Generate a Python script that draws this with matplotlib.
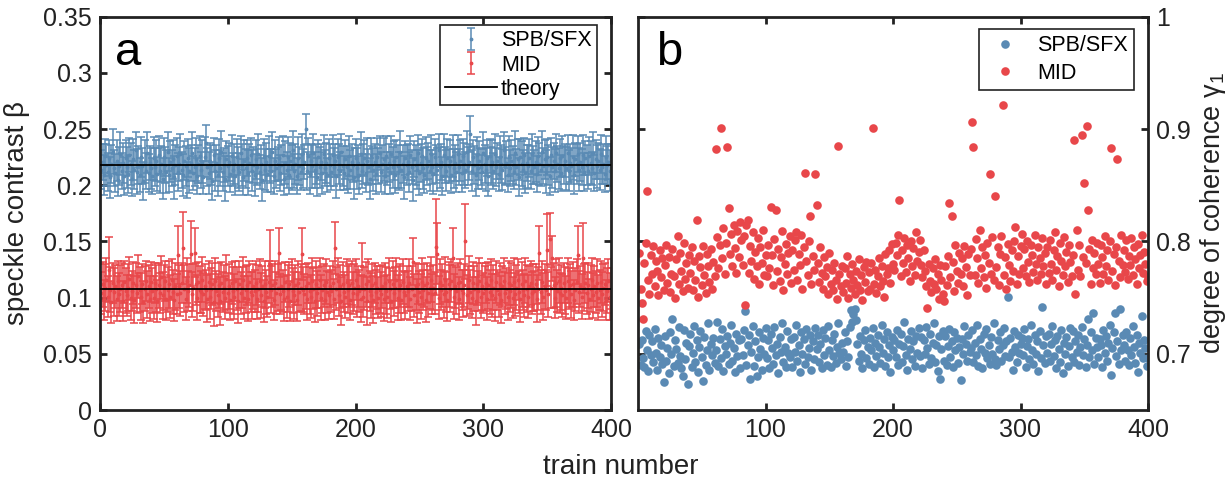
import numpy as np
import matplotlib
matplotlib.use("Agg")
import matplotlib.pyplot as plt

plt.rcParams['font.family'] = ['Liberation Sans', 'DejaVu Sans']
plt.rcParams['mathtext.fontset'] = 'custom'
plt.rcParams['mathtext.rm'] = 'Liberation Sans'
plt.rcParams['mathtext.it'] = 'Liberation Sans:italic'

# ---------------- data (values in thousandths) ----------------
spb_beta_milli = [
    214, 221, 209, 226, 218, 212, 224, 207, 219, 230, 215, 211, 222, 205, 217, 228, 213, 220, 208, 224,
    216, 210, 227, 219, 206, 223, 214, 231, 212, 218, 209, 225, 217, 204, 221, 213, 229, 211, 220, 215,
    208, 224, 216, 222, 210, 227, 213, 219, 206, 225, 218, 212, 230, 209, 221, 215, 223, 207, 218, 226,
    212, 219, 228, 214, 209, 222, 217, 205, 224, 213, 220, 229, 211, 216, 223, 208, 219, 226, 214, 221,
    207, 225, 238, 216, 211, 222, 218, 204, 227, 213, 220, 209, 224, 215, 230, 212, 218, 206, 223, 217,
    221, 210, 226, 214, 219, 208, 225, 216, 212, 229, 218, 207, 222, 215, 224, 211, 220, 227, 213, 218,
    209, 223, 216, 228, 212, 219, 205, 225, 214, 221, 210, 226, 217, 213, 230, 208, 222, 215, 219, 224,
    211, 218, 227, 206, 220, 214, 225, 209, 222, 216, 231, 213, 219, 208, 224, 217, 212, 228, 215, 221,
    250, 213, 226, 210, 222, 217, 229, 214, 219, 207, 225, 216, 221, 211, 228, 215, 220, 209, 224, 218,
    212, 227, 216, 222, 208, 225, 219, 213, 230, 217, 211, 223, 216, 209, 226, 214, 221, 218, 207, 224,
    215, 220, 209, 228, 213, 219, 224, 211, 222, 216, 206, 227, 218, 214, 221, 210, 225, 217, 229, 212,
    219, 223, 208, 226, 215, 220, 211, 228, 216, 222, 209, 225, 217, 213, 230, 214, 219, 207, 224, 218,
    221, 212, 227, 216, 205, 223, 218, 214, 229, 211, 220, 226, 215, 209, 224, 217, 222, 213, 228, 216,
    210, 225, 219, 214, 231, 216, 221, 208, 227, 218, 213, 224, 217, 222, 209, 226, 215, 220, 212, 228,
    216, 222, 211, 226, 219, 214, 230, 217, 221, 246, 213, 225, 218, 209, 227, 215, 222, 216, 212, 229,
    219, 214, 224, 208, 226, 217, 221, 213, 228, 216, 222, 210, 225, 219, 214, 231, 217, 220, 209, 226,
    215, 222, 218, 212, 229, 216, 223, 207, 225, 219, 214, 227, 211, 220, 217, 224, 213, 228, 218, 216,
    221, 210, 226, 219, 214, 230, 217, 223, 212, 225, 218, 208, 227, 216, 222, 213, 229, 219, 215, 224,
    211, 226, 218, 222, 215, 229, 213, 220, 217, 225, 209, 223, 219, 228, 214, 221, 216, 227, 212, 224,
    218, 213, 226, 220, 215, 229, 211, 223, 217, 222, 214, 228, 216, 219, 210, 225, 218, 221, 213, 220,
]
spb_err_milli = [
    17, 16, 18, 15, 19, 17, 16, 18, 17, 20, 16, 17, 18, 15, 17, 19, 16, 18, 17, 16,
    18, 17, 15, 19, 16, 18, 17, 16, 20, 17, 15, 18, 16, 17, 19, 16, 18, 17, 15, 18,
    16, 19, 17, 18, 15, 17, 20, 16, 18, 17, 16, 19, 17, 15, 18, 16, 17, 19, 18, 16,
    17, 15, 18, 16, 19, 17, 18, 16, 17, 20, 16, 18, 15, 17, 19, 16, 17, 18, 16, 19,
    15, 18, 16, 17, 19, 16, 18, 17, 15, 18, 16, 19, 17, 16, 18, 17, 15, 20, 16, 18,
    17, 16, 19, 15, 18, 17, 16, 18, 17, 15, 19, 16, 18, 17, 16, 20, 17, 15, 18, 16,
    19, 17, 16, 18, 15, 17, 19, 16, 18, 17, 16, 18, 15, 19, 17, 16, 18, 17, 15, 19,
    16, 18, 17, 15, 19, 16, 18, 17, 16, 20, 17, 15, 18, 16, 19, 17, 16, 18, 17, 15,
    13, 17, 16, 18, 15, 19, 17, 16, 18, 17, 15, 18, 16, 19, 17, 16, 18, 15, 17, 19,
    16, 18, 17, 15, 19, 16, 18, 17, 16, 18, 15, 17, 19, 16, 18, 17, 16, 15, 19, 17,
    18, 16, 17, 19, 15, 18, 16, 17, 20, 16, 18, 15, 17, 19, 16, 18, 17, 16, 15, 18,
    17, 19, 16, 18, 15, 17, 19, 16, 18, 17, 16, 15, 19, 17, 18, 16, 17, 19, 15, 18,
    16, 18, 17, 15, 19, 16, 18, 17, 16, 20, 17, 15, 18, 16, 19, 17, 16, 18, 17, 15,
    18, 16, 17, 19, 15, 18, 16, 17, 19, 16, 18, 17, 15, 18, 16, 19, 17, 16, 18, 17,
    16, 18, 17, 15, 19, 16, 18, 17, 16, 16, 18, 15, 17, 19, 16, 18, 17, 16, 15, 18,
    17, 19, 16, 18, 15, 17, 19, 16, 18, 17, 16, 15, 19, 17, 18, 16, 17, 19, 15, 18,
    16, 18, 17, 15, 19, 16, 18, 17, 16, 20, 17, 15, 18, 16, 19, 17, 16, 18, 17, 15,
    18, 16, 17, 19, 15, 18, 16, 17, 19, 16, 18, 17, 15, 18, 16, 19, 17, 16, 18, 17,
    16, 18, 17, 15, 19, 16, 18, 17, 16, 20, 17, 15, 18, 16, 19, 17, 16, 18, 17, 15,
    18, 16, 17, 19, 15, 18, 16, 17, 19, 16, 18, 17, 15, 18, 16, 19, 17, 16, 18, 17,
]
mid_beta_milli = [
    104, 112, 98, 109, 116, 101, 125, 107, 96, 113, 105, 110, 99, 115, 103, 108, 111, 97, 114, 106,
    102, 109, 117, 100, 106, 113, 98, 111, 104, 119, 107, 101, 112, 96, 108, 115, 103, 110, 99, 114,
    106, 100, 113, 108, 97, 111, 104, 118, 102, 109, 115, 99, 107, 112, 101, 116, 105, 98, 110, 103,
    138, 110, 104, 113, 144, 108, 99, 115, 106, 111, 139, 103, 109, 140, 112, 100, 114, 107, 105, 116,
    103, 110, 107, 99, 114, 101, 108, 112, 96, 115, 106, 102, 111, 97, 113, 105, 109, 100, 117, 104,
    110, 98, 113, 106, 101, 115, 108, 97, 112, 104, 109, 116, 100, 107, 111, 99, 114, 105, 102, 110,
    106, 113, 99, 108, 115, 102, 110, 97, 112, 105, 101, 114, 130, 107, 111, 98, 113, 104, 109, 140,
    103, 110, 106, 99, 114, 101, 108, 112, 97, 115, 106, 102, 111, 98, 113, 105, 109, 139, 107, 103,
    110, 99, 113, 106, 101, 115, 108, 97, 112, 104, 109, 116, 100, 107, 111, 98, 114, 105, 102, 110,
    106, 113, 99, 144, 108, 115, 102, 110, 97, 112, 105, 101, 114, 107, 111, 98, 113, 104, 109, 116,
    103, 110, 106, 99, 128, 101, 108, 112, 97, 115, 106, 102, 111, 98, 113, 105, 109, 100, 107, 103,
    110, 99, 113, 106, 101, 115, 108, 97, 112, 104, 109, 116, 100, 107, 111, 98, 114, 105, 102, 110,
    106, 113, 99, 108, 132, 102, 110, 97, 112, 105, 101, 114, 107, 111, 98, 113, 104, 109, 116, 103,
    109, 104, 145, 139, 100, 114, 107, 111, 103, 116, 105, 98, 112, 108, 115, 135, 101, 110, 106, 113,
    99, 114, 107, 104, 111, 150, 102, 109, 116, 105, 100, 113, 108, 97, 112, 106, 115, 101, 110, 104,
    108, 113, 99, 111, 105, 116, 102, 109, 100, 114, 107, 103, 112, 98, 110, 115, 104, 108, 101, 113,
    106, 111, 100, 114, 103, 109, 116, 105, 99, 112, 107, 102, 115, 108, 101, 110, 113, 104, 109, 106,
    112, 99, 108, 140, 105, 114, 101, 110, 107, 142, 103, 152, 109, 135, 111, 100, 113, 106, 115, 104,
    109, 102, 113, 106, 100, 115, 108, 111, 103, 112, 98, 107, 114, 138, 105, 110, 101, 135, 109, 113,
    104, 111, 99, 108, 116, 102, 110, 105, 113, 100, 107, 114, 103, 109, 112, 98, 106, 115, 101, 108,
]
mid_err_milli = [
    19, 20, 18, 21, 19, 18, 29, 20, 19, 18, 21, 19, 20, 18, 19, 21, 20, 18, 19, 20,
    18, 21, 19, 20, 18, 19, 21, 20, 18, 19, 20, 21, 18, 19, 20, 18, 21, 19, 20, 18,
    20, 19, 18, 21, 19, 20, 18, 19, 21, 20, 18, 19, 20, 21, 19, 18, 20, 19, 21, 18,
    26, 19, 20, 18, 32, 21, 19, 20, 18, 19, 29, 20, 21, 22, 19, 20, 18, 21, 19, 20,
    19, 20, 18, 21, 19, 20, 18, 19, 21, 20, 18, 19, 20, 21, 19, 18, 20, 19, 21, 18,
    20, 18, 19, 21, 20, 18, 19, 20, 21, 19, 18, 20, 19, 21, 18, 20, 19, 18, 21, 20,
    19, 20, 18, 21, 19, 20, 18, 19, 21, 20, 18, 19, 30, 21, 19, 18, 20, 19, 21, 22,
    18, 21, 19, 20, 18, 19, 21, 20, 18, 19, 20, 21, 18, 19, 20, 18, 21, 23, 20, 18,
    20, 19, 18, 21, 19, 20, 18, 19, 21, 20, 18, 19, 20, 21, 19, 18, 20, 19, 21, 18,
    19, 20, 18, 23, 19, 20, 18, 19, 21, 20, 18, 19, 20, 21, 19, 18, 20, 19, 21, 18,
    20, 18, 19, 21, 21, 18, 19, 20, 21, 19, 18, 20, 19, 21, 18, 20, 19, 18, 21, 20,
    19, 20, 18, 21, 19, 20, 18, 19, 21, 20, 18, 19, 20, 21, 19, 18, 20, 19, 21, 18,
    18, 21, 19, 20, 21, 19, 21, 20, 18, 19, 20, 21, 18, 19, 20, 18, 21, 19, 20, 18,
    20, 19, 43, 27, 19, 20, 18, 19, 21, 20, 18, 19, 20, 21, 19, 27, 20, 19, 21, 18,
    19, 20, 18, 21, 19, 33, 18, 19, 21, 20, 18, 19, 20, 21, 19, 18, 20, 19, 21, 18,
    20, 18, 19, 21, 20, 18, 19, 20, 21, 19, 18, 20, 19, 21, 18, 20, 19, 18, 21, 20,
    19, 20, 18, 21, 19, 20, 18, 19, 21, 20, 18, 19, 20, 21, 19, 18, 20, 19, 21, 18,
    18, 21, 19, 24, 20, 19, 21, 20, 18, 32, 20, 23, 18, 20, 20, 18, 21, 19, 20, 18,
    20, 19, 18, 21, 19, 20, 18, 19, 21, 20, 18, 19, 20, 26, 19, 18, 20, 31, 21, 18,
    19, 20, 18, 21, 19, 20, 18, 19, 21, 20, 18, 19, 20, 21, 19, 18, 20, 19, 21, 18,
]
spb_gamma_milli = [
    709, 690, 712, 696, 688, 720, 703, 685, 717, 699, 711, 693, 722, 701, 686, 714, 697, 708, 691, 675,
    716, 694, 705, 683, 719, 700, 731, 689, 712, 704, 692, 724, 698, 687, 680, 721, 695, 710, 673, 707,
    718, 688, 701, 725, 693, 712, 684, 706, 720, 697, 676, 715, 690, 703, 727, 686, 709, 699, 714, 692,
    703, 728, 689, 713, 696, 722, 685, 707, 700, 716, 691, 710, 726, 694, 705, 684, 718, 698, 712, 687,
    713, 699, 721, 738, 690, 708, 717, 678, 702, 725, 689, 711, 680, 697, 719, 704, 686, 714, 700, 723,
    696, 712, 687, 718, 705, 691, 724, 699, 709, 683, 715, 702, 727, 693, 706, 688, 720, 701, 697, 713,
    688, 715, 702, 726, 694, 708, 684, 719, 700, 713, 691, 722, 697, 705, 717, 686, 711, 695, 723, 704,
    717, 693, 709, 687, 721, 699, 714, 690, 725, 703, 688, 712, 698, 718, 692, 706, 727, 701, 695, 710,
    702, 719, 689, 711, 697, 724, 739, 728, 735, 740, 730, 709, 694, 716, 700, 687, 712, 721, 696, 706,
    691, 714, 703, 723, 688, 710, 698, 717, 706, 692, 726, 701, 713, 689, 719, 697, 708, 684, 715, 703,
    712, 697, 721, 690, 709, 718, 693, 707, 728, 699, 686, 713, 704, 720, 695, 711, 689, 716, 701, 723,
    698, 715, 687, 712, 700, 724, 705, 691, 718, 696, 710, 727, 693, 708, 685, 716, 678, 704, 720, 694,
    716, 690, 707, 722, 697, 711, 688, 719, 703, 714, 692, 706, 677, 713, 700, 725, 709, 694, 717, 702,
    705, 721, 693, 710, 699, 726, 689, 713, 704, 687, 718, 701, 722, 696, 708, 691, 715, 700, 727, 695,
    690, 712, 704, 719, 694, 708, 723, 698, 711, 751, 697, 714, 702, 686, 720, 706, 693, 717, 701, 709,
    714, 699, 722, 688, 707, 713, 695, 726, 703, 691, 717, 700, 711, 685, 720, 696, 742, 708, 692, 716,
    701, 718, 694, 709, 725, 698, 712, 687, 716, 704, 693, 721, 683, 710, 700, 715, 689, 707, 723, 697,
    720, 693, 711, 702, 717, 690, 706, 724, 699, 713, 688, 708, 731, 697, 719, 703, 736, 691, 714, 706,
    697, 713, 708, 688, 721, 701, 716, 694, 710, 726, 681, 705, 719, 736, 698, 711, 691, 740, 703, 717,
    708, 694, 719, 703, 690, 714, 699, 725, 706, 692, 717, 684, 710, 701, 734, 696, 712, 705, 689, 696,
]
mid_gamma_milli = [
    790, 758, 745, 731, 781, 799, 845, 766, 753, 788, 771, 796, 760, 783, 774, 752, 792, 768, 785, 757,
    779, 797, 763, 786, 755, 771, 793, 769, 750, 784, 805, 762, 790, 774, 756, 799, 767, 781, 759, 788,
    772, 795, 757, 783, 766, 819, 751, 787, 777, 761, 796, 770, 754, 789, 778, 764, 793, 758, 782, 769,
    882, 804, 776, 797, 901, 785, 812, 771, 799, 884, 830, 789, 807, 778, 815, 794, 772, 809, 786, 817,
    801, 779, 805, 743, 815, 819, 772, 796, 783, 808, 767, 791, 778, 803, 762, 795, 781, 810, 770, 788,
    769, 797, 776, 831, 788, 761, 802, 828, 774, 793, 765, 786, 809, 757, 780, 798, 771, 790, 805, 763,
    792, 775, 801, 808, 766, 789, 779, 806, 758, 795, 861, 783, 770, 800, 823, 762, 787, 775, 860, 832,
    781, 764, 795, 772, 758, 786, 769, 777, 753, 790, 762, 775, 757, 781, 766, 749, 885, 771, 760, 778,
    755, 776, 763, 787, 750, 771, 759, 780, 766, 753, 774, 761, 784, 757, 770, 748, 777, 764, 782, 756,
    773, 758, 781, 901, 762, 775, 754, 769, 785, 760, 778, 765, 751, 789, 771, 776, 792, 763, 798, 780,
    775, 799, 788, 806, 837, 769, 792, 781, 803, 773, 797, 785, 765, 800, 778, 794, 770, 808, 783, 791,
    801, 779, 768, 792, 774, 760, 741, 780, 765, 755, 776, 762, 784, 758, 771, 749, 779, 766, 753, 747,
    778, 761, 787, 834, 768, 823, 782, 756, 797, 774, 763, 790, 771, 785, 760, 796, 777, 752, 789, 770,
    793, 906, 884, 770, 802, 785, 763, 810, 776, 795, 768, 788, 759, 799, 781, 860, 771, 804, 766, 840,
    777, 795, 761, 789, 805, 921, 770, 786, 758, 798, 779, 765, 792, 774, 800, 813, 762, 787, 771, 796,
    807, 776, 793, 769, 800, 782, 764, 797, 788, 773, 806, 780, 766, 795, 785, 771, 803, 778, 790, 762,
    795, 772, 801, 780, 766, 792, 808, 775, 787, 760, 799, 783, 770, 804, 778, 791, 764, 797, 782, 769,
    788, 890, 753, 810, 775, 797, 769, 895, 786, 852, 781, 903, 828, 793, 762, 801, 776, 790, 771, 799,
    780, 763, 797, 786, 771, 805, 778, 792, 766, 800, 883, 774, 789, 761, 795, 873, 783, 768, 806, 779,
    792, 773, 801, 767, 787, 779, 803, 770, 795, 784, 762, 798, 776, 788, 806, 772, 791, 780, 765, 768,
]
theory_beta = {"SPB/SFX": 0.2176, "MID": 0.1077}
labels = ["SPB/SFX", "MID"]

train = np.arange(1, len(spb_beta_milli) + 1)
spb_beta = np.array(spb_beta_milli) / 1000
spb_err = np.array(spb_err_milli) / 1000
mid_beta = np.array(mid_beta_milli) / 1000
mid_err = np.array(mid_err_milli) / 1000
spb_gamma = np.array(spb_gamma_milli) / 1000
mid_gamma = np.array(mid_gamma_milli) / 1000

BLUE = '#5a8ab4'
RED = '#e8474a'

W, H = 1232, 482
fig = plt.figure(figsize=(W / 100, H / 100), dpi=100)
axL = fig.add_axes([100 / W, (H - 410) / H, 511 / W, 393.3 / H])
axR = fig.add_axes([638 / W, (H - 410) / H, 510 / W, 393.3 / H])

tick_fs = 18
for ax in (axL, axR):
    for s in ax.spines.values():
        s.set_linewidth(2.0)
        s.set_color('#222222')
    ax.tick_params(direction='in', length=5, width=2.0, top=True, right=True,
                   left=True, bottom=True, labelsize=tick_fs, colors='#222222',
                   labelcolor='#222222', pad=6)

# ---- panel a ----
ebk = dict(fmt='.', markersize=3.5, elinewidth=1.1, capsize=3, capthick=1.1)
h1 = axL.errorbar(train, spb_beta, yerr=spb_err, color=BLUE, label=labels[0], **ebk)
h2 = axL.errorbar(train, mid_beta, yerr=mid_err, color=RED, label=labels[1], **ebk)
h3, = axL.plot([0, 400], [theory_beta["SPB/SFX"]] * 2, color='black', lw=1.3, label='theory', zorder=5)
axL.plot([0, 400], [theory_beta["MID"]] * 2, color='black', lw=1.3, zorder=5)
axL.set_xlim(0, 400)
axL.set_ylim(0, 0.35)
axL.set_xticks([0, 100, 200, 300, 400])
axL.set_yticks([0, 0.05, 0.1, 0.15, 0.2, 0.25, 0.3, 0.35])
axL.set_yticklabels(['0', '0.05', '0.1', '0.15', '0.2', '0.25', '0.3', '0.35'])
axL.set_ylabel('speckle contrast β', fontsize=20, color='#222222', labelpad=9)
axL.text(0.029, 0.877, 'a', transform=axL.transAxes, fontsize=34, va='baseline', ha='left')
legA = axL.legend([h1, h2, h3], [labels[0], labels[1], 'theory'],
                  loc='upper right', bbox_to_anchor=(0.9726, 0.979), fontsize=15.5,
                  frameon=True, fancybox=False, edgecolor='#222222', framealpha=1,
                  handlelength=2.4, handletextpad=0.2, labelspacing=0.15,
                  borderpad=0.25, borderaxespad=0)
legA.get_frame().set_linewidth(1.2)

# ---- panel b ----
axR.plot(train, spb_gamma, 'o', color=BLUE, markersize=6.2, markeredgewidth=0, label=labels[0])
axR.plot(train, mid_gamma, 'o', color=RED, markersize=6.2, markeredgewidth=0, label=labels[1])
axR.set_xlim(0, 400)
axR.set_ylim(0.65, 1.0)
axR.set_xticks([100, 200, 300, 400])
axR.set_yticks([0.7, 0.8, 0.9, 1.0])
axR.set_yticklabels(['0.7', '0.8', '0.9', '1'])
axR.tick_params(labelleft=False, labelright=True)
axR.yaxis.set_label_position('right')
axR.set_ylabel('degree of coherence γ$_1$', fontsize=19.5, color='#222222', labelpad=5, rotation=90)
axR.text(0.035, 0.877, 'b', transform=axR.transAxes, fontsize=34, va='baseline', ha='left')
legB = axR.legend(loc='upper right', bbox_to_anchor=((1134 - 638) / 510, (410 - 29) / 393.3),
                  fontsize=15.5, frameon=True, fancybox=False, edgecolor='#222222',
                  framealpha=1, handlelength=1.8, handletextpad=0.6, labelspacing=0.3,
                  borderpad=0.3, borderaxespad=0, markerscale=1.0)
legB.get_frame().set_linewidth(1.2)

fig.text(621 / W, (H - 467) / H, 'train number', fontsize=20, ha='center', va='center',
         color='#222222')

fig.savefig('out.png', dpi=100)
